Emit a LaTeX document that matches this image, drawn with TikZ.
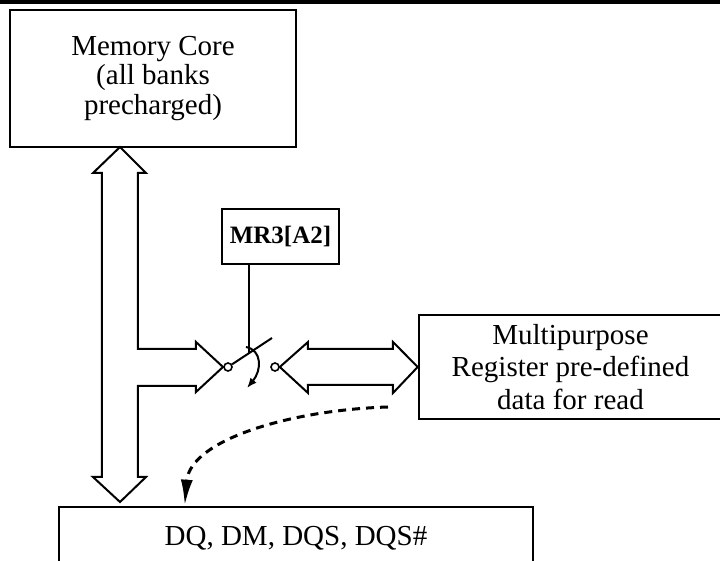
\documentclass[tikz,border=0pt]{standalone}
\usepackage{fontspec}
\setmainfont{Liberation Serif}
\usetikzlibrary{arrows.meta,calc}

\tikzset{
    box/.style={draw, rectangle, line width=1.3pt, align=center, inner sep=0pt,
        font=\fontsize{14.5}{14.8}\selectfont},
    bus/.style={draw, line width=1pt, line join=miter},
    wire/.style={draw, line width=1pt},
    port/.style={circle, draw, line width=0.8pt, inner sep=0pt, minimum size=4pt},
}

\begin{document}
\begin{tikzpicture}[x=0.5pt, y=-0.5pt]

            \clip (0, 0) rectangle (720, 561);
            \fill (0, 0) rectangle (720, 4);

            %%draw the boxes
            \node[box, minimum width=143pt, minimum height=68.5pt] (core) at (153, 78.5){Memory Core\\(all banks\\precharged)};
            \node[box, minimum width=151.5pt, minimum height=52pt, font=\fontsize{14.5}{16.4}\selectfont] (mpr) at (570.5, 367){Multipurpose\\Register pre-defined\\data for read};
            \node[box, minimum width=237pt, minimum height=31pt] (dq) at (296, 538){DQ, DM, DQS, DQS\#};
            \node[box, line width=1pt, minimum width=58.5pt, minimum height=27.5pt, font=\fontsize{12.5}{14}\selectfont\bfseries] (mr3) at (280.5, 236.5){MR3[A2]};

            %%draw the bus
            \draw[bus] (138, 173) -- (146, 173) -- (120, 147) -- (93, 173) -- (102, 173)
                -- (102, 477) -- (93, 477) -- (120, 502) -- (146, 477) -- (138, 477)
                -- (138, 386) -- (196, 386) -- (196, 392) -- (223, 367) -- (196, 342)
                -- (196, 349) -- (138, 349) -- cycle;

            %%draw the switch
            \node[port] (swl) at (228, 367){};
            \node[port] (swr) at (275, 367){};
            \coordinate (pivot) at (249, 353);
            \coordinate (leverend) at (272, 338);
            \draw[wire] (swl) -- (leverend);
            \draw[wire] (mr3.south -| pivot) -- (pivot);
            \draw[wire, -{Latex[length=5pt, width=4pt]}] (246, 347) .. controls (262, 350) and (262, 370) .. (247, 388);

            %%draw the register bus
            \draw[bus] (swr.east) -- (308, 342) -- (308, 349) -- (393, 349) -- (393, 342) -- (mpr.west)
                -- (393, 393) -- (393, 385) -- (308, 385) -- (308, 393) -- cycle;

            %%draw the read path
            \coordinate (readstart) at (388, 407);
            \draw[line width=1.5pt, dash pattern=on 4pt off 3pt, -{Latex[length=13pt, width=6pt]}]
                (readstart) .. controls (290, 410) and (190, 440) .. ($(dq.north west)+(127, 0)$);
        \end{tikzpicture}
\end{document}
